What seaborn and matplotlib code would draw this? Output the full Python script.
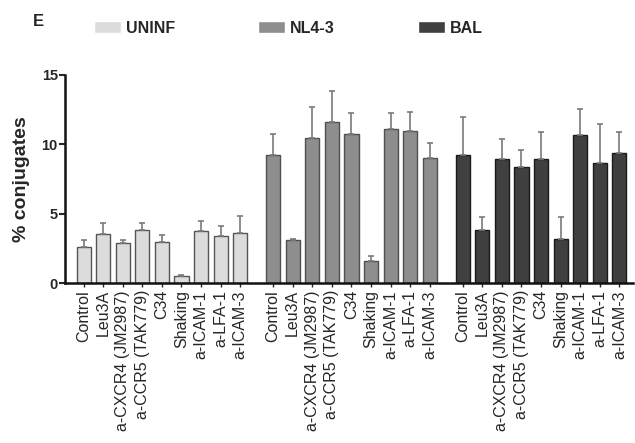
import numpy as np
import pandas as pd
import matplotlib
matplotlib.use("Agg")
import matplotlib.pyplot as plt
import seaborn as sns

sns.set_theme(style="ticks")
plt.rcParams['font.family'] = ['Liberation Sans', 'DejaVu Sans']

conditions = ["Control", "Leu3A", "a-CXCR4 (JM2987)", "a-CCR5 (TAK779)", "C34",
              "Shaking", "a-ICAM-1", "a-LFA-1", "a-ICAM-3"]
groups = ["UNINF", "NL4-3", "BAL"]
uninf = [2.6, 3.57, 2.92, 3.85, 2.96, 0.48, 3.75, 3.39, 3.61]
uninf_err = [0.5, 0.75, 0.17, 0.48, 0.5, 0.07, 0.7, 0.7, 1.2]
nl43 = [9.22, 3.13, 10.42, 11.63, 10.74, 1.59, 11.1, 10.95, 8.98]
nl43_err = [1.5, 0.06, 2.3, 2.2, 1.5, 0.35, 1.13, 1.4, 1.08]
bal = [9.22, 3.8, 8.91, 8.33, 8.91, 3.2, 10.67, 8.67, 9.34]
bal_err = [2.72, 0.97, 1.47, 1.25, 1.97, 1.57, 1.85, 2.8, 1.54]

values = [uninf, nl43, bal]
errors = [uninf_err, nl43_err, bal_err]
group_step = 9.68
rows = []
for g, name in enumerate(groups):
    for i, c in enumerate(conditions):
        rows.append({"pos": g * group_step + i, "group": name, "cond": c,
                     "value": values[g][i], "err": errors[g][i]})
df = pd.DataFrame(rows)

colors = {"UNINF": "#dcdcdc", "NL4-3": "#8e8e8e", "BAL": "#404040"}
edges = {"UNINF": "#555555", "NL4-3": "#505050", "BAL": "#1a1a1a"}

fig = plt.figure(figsize=(6.35, 4.43), dpi=100)
ax = fig.add_axes([0.102, 0.361, 0.895, 0.47])

sns.barplot(data=df, x="pos", y="value", hue="group", hue_order=groups,
            palette=colors, native_scale=True, dodge=False, width=0.72,
            errorbar=None, ax=ax, linewidth=1.0)
for patch_group, name in zip(ax.containers, groups):
    for p in patch_group:
        p.set_edgecolor(edges[name])

for name in groups:
    sub = df[df.group == name]
    ax.errorbar(sub["pos"], sub["value"], yerr=[np.zeros(len(sub)), sub["err"]],
                fmt="none", ecolor="#7a7a7a", elinewidth=1.2, capsize=2.5, capthick=1.2)

ax.set_ylim(0, 15)
ax.set_xlim(-0.96, 28.06)
ax.set_yticks([0, 5, 10, 15])
ax.set_yticklabels(["0", "5", "10", "15"], fontsize=10.5, fontweight="bold")
ax.set_xticks(df["pos"])
ax.set_xticklabels(df["cond"], rotation=90, fontsize=11.5)
ax.set_xlabel("")
ax.set_ylabel("% conjugates", fontsize=14, fontweight="bold", labelpad=8)
for s in ["top", "right"]:
    ax.spines[s].set_visible(False)
ax.spines["left"].set_linewidth(1.8)
ax.spines["bottom"].set_linewidth(1.8)
ax.spines["left"].set_color("#111111")
ax.spines["bottom"].set_color("#111111")
ax.tick_params(axis="y", length=4, width=1.5, pad=1)
ax.tick_params(axis="x", length=3, width=1.0, pad=2)

leg = ax.legend(ncol=3, loc="center left", bbox_to_anchor=(0.04, 1.225), frameon=False,
                fontsize=11.5, handlelength=1.7, handleheight=0.75, handletextpad=0.3,
                columnspacing=5.2, borderaxespad=0)
for t in leg.get_texts():
    t.set_fontweight("bold")

fig.text(0.052, 0.952, "E", fontsize=12, fontweight="bold", ha="left", va="center")

fig.savefig("out.png", dpi=100)
